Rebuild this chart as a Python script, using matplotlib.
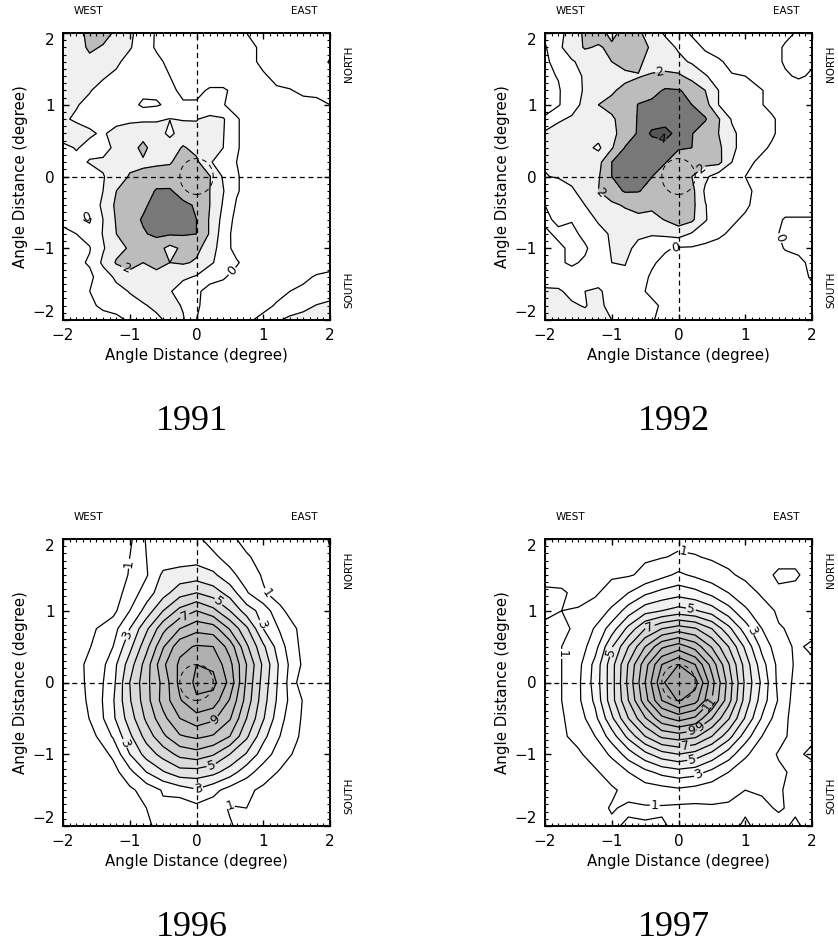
import numpy as np
import matplotlib
matplotlib.use("Agg")
import matplotlib.pyplot as plt
from matplotlib.patches import Circle
from matplotlib.ticker import MultipleLocator

# contour values, rows run from y=2 down to y=-2, columns x=-2 to 2
grid_1991 = [
    [1.3, 1.6, 2.3, 2.4, 1.8, 1.2, 0.5, -0.1, -0.3, -0.4, -0.5, -0.5, -0.4, -0.3, 0.1, 0.3, 0.4, 0.2, 0.3, 0.3, 0.2],
    [1.3, 1.5, 2.2, 1.9, 1.5, 1.1, 0.4, -0.1, -0.3, -0.4, -0.5, -0.5, -0.5, -0.3, -0.2, 0.2, 0.3, 0.2, 0.3, 0.2, 0.6],
    [1.3, 1.4, 1.7, 1.4, 1.2, 0.6, 0.2, 0.2, -0.2, -0.4, -0.5, -0.5, -0.5, -0.4, -0.2, 0.2, 0.4, 0.4, 0.4, 0.4, 1.1],
    [1.4, 1.3, 1.2, 1.1, 0.8, 0.5, 0.3, 0.2, 0.0, -0.3, -0.4, -0.4, -0.4, -0.4, -0.3, -0.1, 0.2, 0.4, 0.3, 0.4, 0.6],
    [1.1, 1.1, 1.05, 0.7, 0.5, 0.3, 0.3, 0.2, 0.1, -0.1, -0.2, 0.1, 0.1, -0.2, -0.4, -0.4, -0.1, -0.05, 0.2, 0.1, 0.2],
    [1.2, 1.05, 0.8, 0.6, 0.5, 0.4, -0.2, -0.1, 0.2, 0.05, 0.1, 0.1, 0.05, -0.4, -0.5, -0.5, -0.5, -0.4, -0.3, -0.1, 0.0],
    [1.1, 0.9, 0.8, 0.7, 0.7, 0.8, 0.85, 0.9, 1.02, 0.95, 0.95, 1.3, 1.1, 0.1, -0.4, -0.5, -0.5, -0.5, -0.5, -0.5, -0.5],
    [1.4, 1.3, 1.1, 0.9, 1.3, 1.5, 1.6, 1.4, 0.8, 1.4, 1.3, 1.5, 1.05, 0.1, -0.4, -0.5, -0.5, -0.5, -0.5, -0.5, -0.5],
    [0.8, 1.05, 0.8, 0.7, 1.2, 1.5, 2.3, 1.4, 1.5, 2.1, 1.7, 1.3, 1.0, 0.1, -0.4, -0.5, -0.5, -0.5, -0.5, -0.5, -0.5],
    [0.6, 0.8, 1.05, 1.15, 1.3, 1.7, 1.85, 1.85, 1.9, 2.5, 2.2, 1.1, 0.5, 0.0, -0.4, -0.5, -0.5, -0.5, -0.5, -0.5, -0.5],
    [0.5, 0.4, 0.6, 0.95, 1.4, 2.1, 2.2, 2.4, 2.5, 2.6, 2.5, 2.05, 0.9, 0.1, -0.4, -0.5, -0.5, -0.5, -0.5, -0.5, -0.5],
    [0.3, 0.2, 0.5, 1.0, 2.0, 2.3, 2.4, 3.1, 3.1, 2.6, 2.5, 2.0, 1.05, 0.1, -0.4, -0.5, -0.5, -0.5, -0.5, -0.5, -0.5],
    [0.1, 0.1, 0.3, 1.2, 2.2, 2.5, 2.8, 3.4, 3.2, 3.2, 2.9, 2.0, 0.9, -0.1, -0.5, -0.5, -0.5, -0.5, -0.5, -0.5, -0.5],
    [0.1, 0.1, -0.1, 1.0, 2.1, 2.6, 3.1, 3.5, 3.6, 3.3, 3.0, 1.9, 0.7, -0.3, -0.5, -0.5, -0.5, -0.5, -0.5, -0.5, -0.5],
    [-0.1, 0.0, 0.3, 1.05, 2.0, 2.5, 2.9, 3.2, 3.1, 3.1, 3.0, 1.9, 0.5, -0.4, -0.5, -0.5, -0.5, -0.5, -0.5, -0.5, -0.5],
    [-0.1, -0.1, -0.05, 0.9, 1.7, 2.1, 2.3, 2.4, 1.7, 2.2, 2.2, 1.6, 0.4, -0.3, -0.5, -0.5, -0.5, -0.5, -0.5, -0.5, -0.5],
    [-0.2, -0.2, 0.1, 1.2, 2.1, 2.1, 2.0, 2.1, 2.0, 2.1, 1.9, 1.2, 0.5, 0.1, -0.4, -0.5, -0.5, -0.5, -0.5, -0.5, -0.5],
    [-0.3, -0.3, -0.2, 0.5, 1.2, 1.9, 1.5, 1.9, 1.6, 1.2, 0.9, 0.2, 0.1, -0.3, -0.5, -0.5, -0.5, -0.4, -0.2, 0.1, 0.3],
    [-0.3, -0.3, 0.0, 0.3, 0.7, 1.05, 1.4, 1.4, 1.1, 0.4, 0.1, -0.2, -0.4, -0.5, -0.5, -0.5, -0.3, 0.0, 0.2, 0.3, 0.6],
    [-0.2, -0.1, -0.1, 0.1, 0.3, 0.7, 0.9, 1.2, 1.4, 0.9, 0.1, -0.3, -0.5, -0.5, -0.4, -0.3, 0.1, 0.5, 0.7, 1.05, 1.2],
    [-0.4, -0.4, -0.3, -0.2, -0.2, 0.1, 0.4, 0.8, 1.2, 1.1, 0.0, -0.4, -0.5, -0.5, -0.1, 0.3, 0.9, 1.2, 1.4, 1.5, 1.6],
]

grid_1992 = [
    [0.2, 0.7, 1.4, 2.2, 2.4, 1.7, 2.4, 2.2, 1.4, 0.9, 0.3, -0.1, -0.3, -0.4, -0.4, -0.4, -0.3, -0.3, -0.2, 0.1, 0.3],
    [-0.1, 0.8, 1.5, 2.1, 1.9, 2.2, 2.4, 2.3, 1.9, 1.3, 0.9, 0.3, -0.1, -0.3, -0.4, -0.4, -0.3, -0.3, 0.1, 0.2, 0.1],
    [-0.1, 0.2, 0.9, 1.3, 1.5, 2.0, 2.3, 2.2, 1.6, 1.4, 1.2, 0.9, 0.3, 0.1, -0.2, -0.3, -0.4, -0.3, 0.1, 0.2, 0.1],
    [-0.2, 0.05, 0.7, 1.1, 1.4, 1.6, 1.8, 1.95, 2.1, 2.3, 2.2, 1.6, 1.1, 0.5, 0.05, 0.0, -0.3, -0.4, -0.1, 0.1, -0.1],
    [-0.3, -0.1, 0.6, 1.1, 1.5, 1.9, 2.2, 2.4, 2.7, 3.1, 3.05, 2.8, 2.0, 1.0, 0.5, 0.2, 0.1, -0.2, -0.4, -0.4, -0.4],
    [-0.3, -0.1, 0.7, 1.2, 2.0, 2.2, 2.4, 3.05, 3.2, 3.3, 3.3, 3.0, 2.4, 1.0, 0.7, 0.3, 0.1, -0.2, -0.5, -0.5, -0.5],
    [0.1, 0.9, 1.1, 1.3, 1.8, 1.9, 2.3, 3.1, 3.4, 3.5, 3.5, 3.4, 3.1, 2.1, 0.9, 0.5, 0.3, 0.1, -0.3, -0.5, -0.5],
    [1.2, 1.3, 1.3, 1.3, 1.4, 1.7, 2.5, 3.1, 4.2, 4.4, 3.6, 3.05, 2.4, 2.0, 1.2, 0.6, 0.3, 0.1, -0.3, -0.5, -0.5],
    [1.3, 1.4, 1.2, 1.3, 0.8, 1.9, 3.05, 3.3, 3.3, 3.5, 3.1, 3.0, 2.3, 2.2, 1.3, 0.4, 0.2, -0.1, -0.4, -0.5, -0.5],
    [1.1, 1.3, 1.2, 1.3, 1.7, 3.0, 3.3, 3.4, 3.3, 3.05, 2.4, 2.05, 2.3, 2.3, 1.0, 0.2, -0.1, -0.4, -0.5, -0.5, -0.5],
    [0.95, 1.1, 1.2, 1.4, 1.9, 3.0, 3.3, 3.3, 3.02, 2.5, 2.3, 2.0, 1.2, 0.5, 0.2, 0.0, -0.3, -0.4, -0.5, -0.5, -0.5],
    [0.2, 0.3, 0.9, 1.3, 2.0, 2.6, 3.1, 3.05, 2.7, 2.3, 2.2, 2.3, 0.85, 0.3, 0.2, 0.1, -0.1, -0.4, -0.5, -0.5, -0.5],
    [0.0, 0.2, 0.3, 1.0, 1.4, 1.8, 2.1, 2.4, 2.2, 2.3, 2.4, 2.3, 1.05, 0.4, 0.2, 0.1, -0.2, -0.4, -0.5, -0.5, -0.5],
    [-0.1, 0.1, 0.05, 0.3, 1.2, 1.4, 1.6, 1.7, 1.7, 2.05, 2.5, 2.2, 1.1, 0.3, 0.1, -0.1, -0.4, -0.4, 0.1, 0.1, 0.1],
    [0.1, -0.1, -0.2, 0.2, 0.5, 1.2, 1.3, 1.2, 1.1, 1.2, 1.4, 0.9, 0.4, 0.1, -0.1, -0.3, -0.4, -0.1, 0.1, 0.2, 0.2],
    [0.2, 0.1, -0.1, -0.1, 0.4, 1.1, 1.3, 0.7, 0.3, 0.1, -0.1, -0.1, -0.2, -0.2, -0.4, -0.5, -0.4, -0.3, 0.05, 0.1, 0.3],
    [0.2, 0.1, -0.1, 0.1, 0.3, 1.0, 1.05, 0.4, 0.1, -0.2, -0.5, -0.5, -0.5, -0.5, -0.5, -0.5, -0.5, -0.5, -0.3, -0.1, 0.1],
    [0.4, 0.6, 0.3, 0.3, 0.4, 0.7, 0.8, 0.3, -0.1, -0.3, -0.5, -0.5, -0.5, -0.5, -0.5, -0.5, -0.5, -0.5, -0.5, -0.3, 0.1],
    [1.2, 1.1, 0.8, 1.0, 1.2, 0.5, 0.3, 0.1, -0.1, -0.2, -0.5, -0.5, -0.5, -0.5, -0.5, -0.5, -0.5, -0.5, -0.5, -0.5, -0.2],
    [1.4, 1.3, 1.1, 0.95, 1.3, 0.6, 0.2, 0.3, 0.1, -0.1, -0.5, -0.5, -0.5, -0.5, -0.5, -0.5, -0.5, -0.5, -0.5, -0.5, -0.5],
    [1.5, 1.5, 1.3, 1.3, 1.2, 1.0, 0.3, 0.1, 0.05, -0.2, -0.5, -0.5, -0.5, -0.5, -0.5, -0.5, -0.5, -0.5, -0.5, -0.5, -0.5],
]

grid_1996 = [
    [-0.4, -0.4, -0.3, -0.2, 0.8, 2.1, 2.3, 2.4, 2.2, 1.6, 1.2, 0.7, 0.3, 0.1, 0.1, 0.3, 1.1],
    [-0.4, -0.4, -0.2, -0.1, 1.0, 2.0, 2.4, 2.5, 2.6, 2.2, 1.6, 1.1, 0.7, 0.3, 0.1, -0.1, 0.9],
    [-0.3, -0.3, -0.1, 0.2, 1.1, 1.9, 3.2, 3.4, 3.5, 3.2, 2.3, 1.5, 0.9, 0.5, 0.2, 0.1, 0.1],
    [-0.2, -0.2, 0.0, 0.5, 1.4, 2.5, 3.6, 4.6, 5.0, 4.5, 3.6, 2.1, 1.1, 0.6, 0.2, 0.0, -0.2],
    [-0.2, -0.1, 0.1, 0.7, 2.0, 3.4, 5.0, 6.3, 7.0, 6.3, 5.0, 3.5, 2.6, 1.2, 0.5, 0.1, -0.1],
    [-0.1, 0.4, 1.0, 1.6, 3.0, 4.8, 6.7, 8.0, 8.7, 8.5, 6.9, 5.2, 3.0, 1.9, 1.0, 0.3, 0.0],
    [-0.2, 0.8, 1.1, 2.0, 3.7, 5.7, 7.9, 9.7, 10.1, 10.0, 8.6, 6.2, 4.2, 2.4, 1.1, 0.3, 0.0],
    [-0.2, 0.9, 1.3, 2.6, 4.5, 6.5, 8.8, 10.2, 11.0, 10.8, 9.3, 7.0, 4.8, 2.8, 1.2, 0.4, 0.1],
    [-0.5, 0.8, 1.5, 2.7, 5.0, 6.7, 8.3, 10.3, 11.2, 11.3, 9.7, 6.8, 4.6, 2.7, 1.0, 0.5, 0.2],
    [-0.3, 0.7, 1.5, 2.9, 4.9, 6.6, 8.4, 9.9, 10.9, 10.6, 8.9, 6.6, 4.4, 2.6, 1.3, 0.4, 0.2],
    [-0.2, 0.5, 1.4, 2.8, 4.5, 6.2, 7.7, 9.0, 9.6, 9.2, 8.1, 6.0, 4.1, 2.3, 1.2, 0.4, 0.2],
    [-0.2, 0.1, 1.0, 2.1, 3.8, 5.4, 6.8, 7.9, 8.2, 7.9, 7.0, 5.2, 3.3, 2.0, 1.1, 0.3, 0.1],
    [-0.3, -0.1, 0.4, 1.2, 3.0, 4.4, 5.4, 6.3, 6.6, 6.1, 5.0, 3.9, 2.5, 1.5, 0.8, 0.3, 0.1],
    [-0.3, -0.2, 0.0, 0.6, 1.7, 3.0, 3.9, 4.6, 4.6, 4.3, 3.5, 2.4, 1.5, 0.9, 0.5, 0.2, 0.0],
    [-0.2, -0.2, -0.1, 0.2, 0.8, 1.4, 2.1, 2.5, 2.9, 2.3, 1.6, 1.2, 0.8, 0.4, 0.2, 0.0, 0.0],
    [-0.2, -0.2, -0.1, 0.0, 0.5, 1.0, 1.8, 1.3, 1.7, 1.5, 0.9, 1.0, 0.6, 0.3, 0.0, 0.0, 0.0],
    [-0.2, -0.2, -0.1, -0.1, 0.2, 0.8, 1.4, 1.4, 1.6, 1.7, 1.1, 0.6, 0.4, 0.2, 0.0, 0.0, 0.0],
]

grid_1997 = [
    [0.6, 0.6, 0.9, 0.8, 0.7, 0.7, 0.9, 0.8, 0.8, 0.7, 0.7, 0.6, 0.6, 0.6, 0.6, 0.5, 0.5],
    [0.7, 0.7, 0.9, 0.9, 0.8, 0.8, 0.9, 0.95, 1.1, 1.05, 0.9, 0.8, 0.8, 0.7, 0.8, 0.7, 0.6],
    [0.8, 0.7, 0.8, 0.8, 0.9, 0.9, 1.2, 1.7, 2.2, 1.8, 1.4, 1.1, 0.85, 0.8, 1.1, 1.15, 0.6],
    [1.1, 1.1, 0.8, 0.9, 1.3, 2.0, 2.8, 3.3, 3.6, 3.3, 2.7, 2.0, 1.3, 0.9, 0.9, 0.7, 0.8],
    [1.2, 1.0, 1.05, 1.3, 2.2, 3.5, 4.6, 5.0, 5.4, 5.1, 4.5, 3.4, 2.2, 1.3, 0.9, 0.8, 0.7],
    [0.8, 0.9, 1.1, 2.1, 3.5, 5.3, 7.0, 8.0, 8.5, 8.1, 7.0, 5.3, 3.5, 2.0, 1.05, 0.9, 0.8],
    [0.6, 1.0, 1.4, 2.6, 4.9, 7.0, 9.0, 10.8, 11.5, 10.6, 8.9, 7.0, 4.8, 2.7, 1.4, 0.9, 1.1],
    [0.4, 1.0, 1.7, 3.3, 5.6, 8.1, 10.6, 13.0, 14.0, 13.0, 10.6, 8.1, 5.6, 3.4, 1.7, 0.9, 0.9],
    [0.2, 1.0, 1.8, 3.4, 5.6, 8.3, 11.0, 13.8, 15.0, 14.4, 11.4, 8.6, 5.8, 3.8, 1.7, 0.8, 0.5],
    [0.3, 1.0, 1.8, 3.2, 5.6, 8.0, 10.6, 13.0, 14.1, 13.4, 11.0, 8.4, 5.6, 3.5, 1.9, 0.6, 0.6],
    [0.4, 0.9, 1.5, 2.7, 4.8, 7.0, 8.9, 10.7, 11.4, 10.8, 9.0, 7.1, 4.9, 2.9, 1.4, 0.7, 0.7],
    [0.7, 0.9, 1.2, 2.0, 3.5, 5.3, 7.0, 8.2, 8.5, 8.2, 7.0, 5.4, 3.5, 2.0, 1.2, 0.8, 0.9],
    [0.5, 0.6, 0.9, 1.3, 2.2, 3.5, 4.7, 5.6, 6.0, 5.6, 4.7, 3.5, 2.2, 1.3, 0.95, 0.9, 1.1],
    [0.5, 0.6, 0.6, 0.9, 1.3, 2.0, 2.7, 3.3, 3.6, 3.4, 2.7, 2.0, 1.3, 1.0, 1.1, 0.9, 0.8],
    [0.6, 0.7, 0.6, 0.7, 0.9, 1.2, 1.5, 1.6, 1.8, 1.6, 1.4, 1.2, 1.0, 1.1, 1.1, 0.7, 0.7],
    [0.6, 0.5, 0.7, 0.8, 1.05, 0.9, 0.9, 0.9, 0.8, 0.8, 0.9, 0.9, 0.9, 0.8, 1.1, 0.8, 0.7],
    [0.5, 0.6, 0.8, 0.8, 0.9, 1.1, 1.05, 1.1, 0.8, 0.7, 0.8, 0.8, 1.1, 0.8, 0.7, 1.2, 0.6],
]

years = ["1991", "1992", "1996", "1997"]
grids = [grid_1991, grid_1992, grid_1996, grid_1997]
plain_levels = [[1, 3, 4], [1, 3], [2, 4, 6, 8, 10, 11], [2, 4, 6, 8, 10, 12, 14]]
label_levels = [[0, 2], [0, 2, 4], [1, 3, 5, 7, 9], [1, 3, 5, 7, 9, 11, 13]]
fill_levels = [[1, 2, 3, 4, 9], [1, 2, 3, 4, 9], list(range(3, 13)), list(range(3, 17))]
fill_colors = [
    ["#f0f0f0", "#bcbcbc", "#787878", "#555555"],
    ["#f0f0f0", "#bcbcbc", "#787878", "#555555"],
    ["#f0f0f0", "#e4e4e4", "#dadada", "#d0d0d0", "#c8c8c8", "#c0c0c0", "#b8b8b8", "#b0b0b0", "#a8a8a8"],
    ["#f8f8f8", "#f0f0f0", "#e8e8e8", "#e0e0e0", "#d8d8d8", "#d0d0d0", "#c8c8c8", "#c0c0c0", "#b8b8b8",
     "#b2b2b2", "#acacac", "#a6a6a6", "#a2a2a2"],
]
labels_at = [
    [(-1.65, -0.55), (-1.1, -1.37), (0.65, -1.42)],
    [(-0.28, 1.47), (-1.15, -0.2), (0.28, 0.18), (-0.05, -1.0), (1.55, -0.85), (-0.25, 0.5)],
    [(-0.95, 1.65), (1.0, 1.2), (0.95, 0.8), (-1.0, 0.65), (0.35, 1.15), (-0.2, 0.98), (0.35, -0.6), (0.2, -1.05),
     (0.0, -1.4), (-1.2, -0.9), (0.45, -1.6)],
    [(0.05, 1.75), (-1.6, 0.4), (-1.1, 0.45), (0.2, 1.1), (1.05, 0.7), (-0.4, 0.7), (0.45, -0.28), (0.3, -0.58),
     (0.2, -0.72), (0.1, -0.9), (0.2, -1.05), (0.3, -1.28), (-0.35, -1.5)],
]

# axes boxes in pixels: left, top
boxes = [(63, 33), (545, 33), (63, 539), (545, 539)]
W, H = 838, 946
box_w, box_h = 267, 287

fig = plt.figure(figsize=(W / 100, H / 100), dpi=100)

for i in range(4):
    left, top = boxes[i]
    ax = fig.add_axes([left / W, 1 - (top + box_h) / H, box_w / W, box_h / H])

    z = np.array(grids[i])
    n = z.shape[0]
    xs = np.linspace(-2, 2, n)
    ys = np.linspace(2, -2, n)

    ax.contourf(xs, ys, z, levels=fill_levels[i], colors=fill_colors[i])
    ax.contour(xs, ys, z, levels=plain_levels[i], colors="black", linewidths=0.9, linestyles="solid")
    cs = ax.contour(xs, ys, z, levels=label_levels[i], colors="black", linewidths=0.9, linestyles="solid")
    ax.clabel(cs, manual=labels_at[i], fmt="%d", fontsize=9, inline=True, inline_spacing=1)

    ax.axhline(0, color="black", linewidth=0.9, dashes=(4, 3))
    ax.axvline(0, color="black", linewidth=0.9, dashes=(4, 3))
    ax.add_patch(Circle((0, 0), 0.25, fill=False, edgecolor="black", linewidth=0.7, linestyle=(0, (5, 4))))

    ax.set_xlim(-2, 2)
    ax.set_ylim(-2, 2)
    ax.set_xticks([-2, -1, 0, 1, 2])
    ax.set_yticks([-2, -1, 0, 1, 2])
    ax.xaxis.set_minor_locator(MultipleLocator(0.1))
    ax.yaxis.set_minor_locator(MultipleLocator(0.1))
    ax.tick_params(which="major", direction="in", top=True, right=True, length=4.5, width=1, labelsize=11, pad=6)
    ax.tick_params(which="minor", direction="in", top=True, right=True, length=2, width=0.8)
    for s in ax.spines.values():
        s.set_linewidth(1.4)

    # the end labels of the y axis sit just inside the frame
    ylabs = ax.get_yticklabels()
    ylabs[0].set_verticalalignment("bottom")
    ylabs[-1].set_verticalalignment("top")

    ax.set_xlabel("Angle Distance (degree)", fontsize=10.8, labelpad=3)
    ax.set_ylabel("Angle Distance (degree)", fontsize=10.8, labelpad=3)

    ax.text(0.097, 1.077, "WEST", transform=ax.transAxes, fontsize=7.5, ha="center", va="center")
    ax.text(0.903, 1.077, "EAST", transform=ax.transAxes, fontsize=7.5, ha="center", va="center")
    ax.text(1.071, 0.892, "NORTH", transform=ax.transAxes, fontsize=7.5, rotation=90, ha="center", va="center")
    ax.text(1.071, 0.105, "SOUTH", transform=ax.transAxes, fontsize=7.5, rotation=90, ha="center", va="center")

    ax.text(0.482, 1 - 388 / box_h, years[i], transform=ax.transAxes, fontsize=26,
            family="Liberation Serif", ha="center", va="center")

fig.savefig("out.png", dpi=100)
